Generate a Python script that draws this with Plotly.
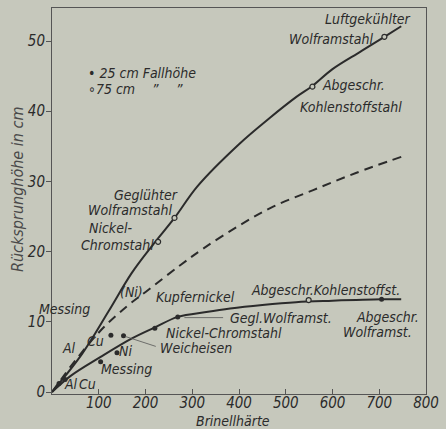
import plotly.graph_objects as go

# ---- data (Brinellhärte vs. Rücksprunghöhe in cm) ----
upper_x = [0, 64, 121, 170, 215, 262, 311, 400, 465, 522, 557, 600, 660, 711, 747]
upper_y = [0, 5.4, 11.5, 16.9, 20.9, 24.8, 29.3, 35.3, 39.0, 42.0, 43.6, 46.0, 48.5, 50.6, 52.1]

dashed_x = [0, 50, 106, 160, 205, 275, 325, 400, 473, 560, 650, 747]
dashed_y = [0, 4.5, 8.9, 12.2, 14.5, 18.1, 20.5, 23.7, 26.4, 28.8, 31.2, 33.5]

lower_x = [0, 40, 104, 170, 220, 269, 330, 381, 450, 522, 600, 705, 747]
lower_y = [0, 2.3, 5.0, 7.6, 9.2, 10.7, 11.4, 11.9, 12.4, 12.8, 13.0, 13.2, 13.2]

# measured points, 25 cm drop height (filled)
p25_x = [15, 28, 104, 139, 126, 153, 220, 269, 705]
p25_y = [1.2, 1.8, 4.3, 5.6, 8.1, 8.0, 9.1, 10.7, 13.2]
# measured points, 75 cm drop height (open)
p75_x = [711, 557, 262, 227, 549]
p75_y = [50.6, 43.5, 24.8, 21.4, 13.1]

x_ticks = [100, 200, 300, 400, 500, 600, 700, 800]
y_ticks = [0, 10, 20, 30, 40, 50]

# labels: (text, x, y, anchor)
labels = [
    ("Luftgekühlter", 772, 53.1, "right"),
    ("Wolframstahl", 690, 50.3, "right"),
    ("Abgeschr.", 574, 43.75, "left"),
    ("Kohlenstoffstahl", 526, 40.6, "left"),
    ("• 25 cm Fallhöhe", 73, 45.5, "left"),
    ("∘75 cm", 73, 43.2, "left"),
    ("\u201d", 222, 43.2, "center"),
    ("\u201d", 273, 43.2, "center"),
    ("Geglühter", 273, 28.1, "right"),
    ("Wolframstahl", 262, 26.0, "right"),
    ("Nickel-", 125, 23.3, "center"),
    ("Chromstahl", 222, 21.0, "right"),
    ("Messing", 26, 11.8, "center"),
    ("(Ni)", 170, 14.3, "center"),
    ("Kupfernickel", 306, 13.6, "center"),
    ("Abgeschr.Kohlenstoffst.", 585, 14.6, "center"),
    ("Gegl.Wolframst.", 490, 10.5, "center"),
    ("Abgeschr.", 718, 10.7, "center"),
    ("Wolframst.", 697, 8.5, "center"),
    ("Nickel-Chromstahl", 368, 8.4, "center"),
    ("Weicheisen", 307, 6.25, "center"),
    ("Messing", 160, 3.3, "center"),
    ("Ni", 157, 5.8, "center"),
    ("Cu", 94, 7.2, "center"),
    ("Al", 37, 6.25, "center"),
    ("Sn", -12, 5.5, "center"),
    ("Sn", -16, 2.6, "center"),
    ("Al", 40, 1.2, "center"),
    ("Cu", 75, 1.2, "center"),
]

# leader lines: (x_from, y_from, x_to, y_to)
leaders = [
    (153, 8.0, 222, 6.5),
    (280, 10.6, 366, 10.6),
]

BG = "#c6c8bc"
INK = "#2b2b2b"
FONT = "Liberation Sans Narrow, DejaVu Sans Condensed, Liberation Sans, sans-serif"

fig = go.Figure()
fig.add_trace(go.Scatter(x=upper_x, y=upper_y, mode="lines", line=dict(color=INK, width=2, shape="spline"), hoverinfo="skip"))
fig.add_trace(go.Scatter(x=dashed_x, y=dashed_y, mode="lines", line=dict(color=INK, width=2, dash="9px,6px", shape="spline"), hoverinfo="skip"))
fig.add_trace(go.Scatter(x=lower_x, y=lower_y, mode="lines", line=dict(color=INK, width=2, shape="spline"), hoverinfo="skip"))
fig.add_trace(go.Scatter(x=p25_x, y=p25_y, mode="markers", marker=dict(color=INK, size=5), hoverinfo="skip", cliponaxis=False))
fig.add_trace(go.Scatter(x=p75_x, y=p75_y, mode="markers", marker=dict(color=BG, size=5, line=dict(color=INK, width=1.2)), hoverinfo="skip", cliponaxis=False))

ann = []
for t, x, y, a in labels:
    ann.append(dict(text="<i>%s</i>" % t, x=x, y=y, xref="x", yref="y", xanchor=a, yanchor="middle",
                    showarrow=False, font=dict(size=14, color=INK, family=FONT)))
for x0, y0, x1, y1 in leaders:
    ann.append(dict(x=x1, y=y1, ax=x0, ay=y0, xref="x", yref="y", axref="x", ayref="y", text="",
                    showarrow=True, arrowhead=0, arrowwidth=0.8, arrowcolor="#555555"))
ann.append(dict(text="<i>Brinellhärte</i>", x=0.485, y=-0.071, xref="paper", yref="paper", xanchor="center",
                yanchor="middle", showarrow=False, font=dict(size=14, color=INK, family=FONT)))
ann.append(dict(text="<i>Rücksprunghöhe in cm</i>", x=-0.092, y=0.53, xref="paper", yref="paper", xanchor="center",
                yanchor="middle", textangle=-90, showarrow=False, font=dict(size=16, color="#4a4a4a", family=FONT)))

fig.update_layout(
    width=446, height=429,
    margin=dict(l=52, r=14, t=7, b=35),
    paper_bgcolor=BG, plot_bgcolor=BG,
    showlegend=False,
    font=dict(family=FONT, color=INK),
    annotations=ann,
)
fig.update_xaxes(range=[0, 800], tickvals=x_ticks, ticks="inside", ticklen=5, tickcolor="#555555",
                 ticklabelstandoff=-5,
                 showgrid=False, zeroline=False, showline=True, mirror=True, linecolor="#555555", linewidth=1,
                 tickfont=dict(size=15, color=INK, family=FONT, style="italic"))
fig.update_yaxes(range=[-0.28, 54.7], tickvals=y_ticks, ticks="outside", ticklen=5, tickcolor="#555555",
                 ticklabelstandoff=-2,
                 showgrid=False, zeroline=False, showline=True, mirror=True, linecolor="#555555", linewidth=1,
                 tickfont=dict(size=15, color=INK, family=FONT, style="italic"))

fig.write_html("out.html", config={"displayModeBar": False},
               post_script="document.body.style.margin='0px';document.body.style.background='%s';" % BG)
